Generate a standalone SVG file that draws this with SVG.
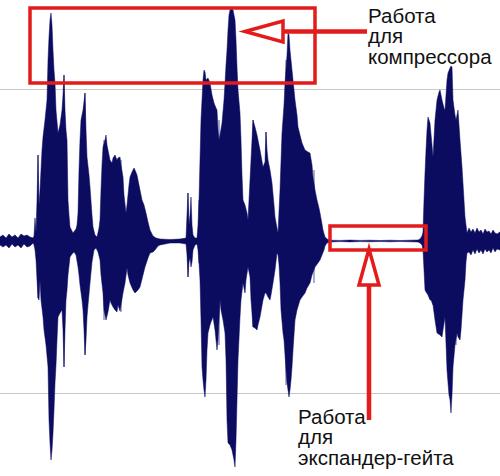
<svg xmlns="http://www.w3.org/2000/svg" width="500" height="476" viewBox="0 0 500 476">
<style>
.grid{stroke:#c8c8c8;stroke-width:1;fill:none}
.wave{fill:#0b0b60;stroke:#0b0b60;stroke-width:0.5;stroke-linejoin:round}
.hair{stroke:#5c5c9c;stroke-width:1}
.red{fill:none;stroke:#e41b1b;stroke-width:3.5}
.redfill{fill:#fff;stroke:#e41b1b;stroke-width:3.5;stroke-linejoin:miter}
.redline{stroke:#e41b1b;stroke-width:4.5}
.lbl{font-family:"Liberation Sans",Arial,sans-serif;font-size:20.5px;fill:#111}
</style>
<rect width="500" height="476" fill="#fff"/>
<g id="grid">
<line class="grid" x1="0" y1="89.5" x2="500" y2="89.5"/>
<line class="grid" x1="0" y1="393.5" x2="500" y2="393.5"/>
</g>
<g id="waveform">
<g class="hair">
<line x1="38" y1="155" x2="38" y2="298"/>
<line x1="64" y1="75" x2="64" y2="367"/>
<line x1="85" y1="93" x2="85" y2="355"/>
<line x1="188" y1="193" x2="188" y2="277"/>
<line x1="199" y1="200" x2="199" y2="263"/>
<line x1="253" y1="120" x2="253" y2="327"/>
<line x1="266" y1="132" x2="266" y2="293"/>
<line x1="433" y1="157" x2="433" y2="305"/>
<line x1="456" y1="120" x2="456" y2="345"/>
<line x1="104" y1="140" x2="104" y2="320"/>
<line x1="121" y1="160" x2="121" y2="312"/>
<line x1="219" y1="120" x2="219" y2="345"/>
<line x1="286" y1="60" x2="286" y2="385"/>
<line x1="314" y1="170" x2="314" y2="283"/>
</g>
<polygon class="wave" points="0,237 3,235 6,238 9,234 12,237 15,235 18,238 21,234 24,236 27,235 30,237 33,238 34,236 35,218 36,232 37,200 38,155 39,205 40,190 42,150 43,137 45,120 47,100 48,60 49,37 50,20 51,13 52,25 53,50 54,70 55,83 56,110 58,133 60,125 62,110 63,95 64,75 65,110 66,130 67,140 68,200 69,215 70,227 73,233 76,229 77,225 78,213 79,170 80,140 81,120 83,110 85,93 86,130 87,157 89,175 90,187 92,215 93,227 95,235 97,237 99,228 100,220 101,190 102,165 103,147 105,140 106,135 107,145 108,150 110,160 112,163 113,158 115,155 117,160 118,158 120,157 121,165 123,177 124,195 126,213 127,205 129,185 130,177 132,172 134,168 135,170 137,175 138,180 140,190 142,200 144,205 146,213 148,222 150,230 153,236 156,238 160,239 170,239.5 180,239 186,238 187,215 188,193 189,225 190,215 191,197 192,225 193,235 195,238 197,238 198,225 199,200 200,160 201,120 202,100 203,80 204,70 205,72 206,80 208,78 210,83 212,95 214,103 216,108 217,110 218,130 219,140 220,135 222,123 224,100 225,83 226,65 227,50 228,30 229,15 230,10 231,8 233,10 234,15 235,20 236,40 237,67 238,90 240,113 241,140 242,175 243,200 245,205 247,213 248,220 250,180 252,140 253,120 255,127 257,135 258,140 260,150 263,167 265,162 266,132 267,150 268,160 270,170 272,183 274,205 275,217 277,228 278,233 280,190 282,133 284,105 285,83 287,55 288,33 289,35 290,50 291,60 292,70 294,90 295,100 297,115 298,127 300,135 302,143 305,150 308,152 310,153 312,165 313,177 315,190 317,200 319,208 320,213 322,224 323,230 325,237 327,239 330,240.2 340,240.4 350,240.1 360,240.4 370,240.2 380,240.5 390,240.2 400,240.5 410,240.2 418,240 420,239 422,236 423,232 424,200 425,173 426,150 427,130 428,117 429,120 430,123 432,145 433,157 435,120 437,100 439,92 440,90 442,100 444,108 445,110 446,95 447,80 448,73 450,68 451,66 452,67 453,100 455,115 456,120 457,115 458,110 460,140 462,167 464,200 465,217 467,233 469,228 471,232 473,229 475,233 477,228 479,232 481,230 483,234 485,229 487,232 489,231 491,234 493,230 495,233 497,234 500,232 500,250 497,249 495,252 493,248 491,253 489,250 487,252 485,249 483,254 481,250 479,253 477,249 475,254 473,250 471,255 469,252 467,253 466,262 465,280 463,300 461,330 460,340 458,337 457,333 455,345 453,367 452,395 451,413 450,400 449,395 448,383 447,370 445,317 443,330 442,337 440,335 437,333 435,320 433,305 431,300 430,300 428,295 426,292 425,290 424,270 423,250 422,245 420,243 418,242 410,241.8 400,241.5 390,241.8 380,241.5 370,241.8 360,241.6 350,241.9 340,241.6 330,242 327,243 325,246 324,250 322,255 320,260 318,263 315,267 312,275 310,283 307,288 305,293 302,297 300,300 297,310 295,320 293,350 292,367 291,380 290,390 289,397 288,390 287,383 286,370 285,355 284,340 283,333 281,310 280,283 279,265 278,255 277,253 275,270 273,283 271,295 270,300 268,297 266,293 265,293 263,300 260,317 258,325 257,330 255,328 253,327 251,300 250,277 248,267 246,280 245,293 243,283 241,300 240,317 238,360 237,400 236,440 235,467 234,460 232,450 230,445 228,443 227,420 226,360 225,333 223,320 221,310 220,300 219,320 218,340 217,350 215,330 213,317 211,322 210,325 208,333 207,350 206,380 205,397 204,390 203,380 202,367 201,320 200,280 199,263 198,250 197,244 195,245 193,250 192,262 191,267 190,258 189,262 188,277 187,255 186,244 180,243 170,243 160,245 158,246 155,250 153,252 150,253 148,258 145,267 143,275 140,287 138,290 135,293 133,290 130,283 128,275 127,268 125,283 123,293 121,305 120,311 118,305 117,312 115,310 113,307 111,303 110,300 108,312 106,320 104,310 103,293 101,275 100,260 98,252 96,248 94,250 92,262 90,283 88,305 87,317 86,340 85,355 84,330 83,310 82,300 80,285 79,275 78,267 76,255 74,252 72,254 70,257 68,275 67,290 66,300 65,330 64,367 63,330 62,310 60,313 58,317 57,340 56,365 55,383 54,410 53,433 52,450 51,460 50,443 49,420 48,367 46,345 44,330 43,317 41,300 40,280 39,300 38,298 37,280 36,260 35,250 34,245 33,243 30,246 27,247 24,244 21,248 18,245 15,247 12,244 9,248 6,245 3,247 0,245"/>
</g>
<g id="compressor-zone">
<rect class="red" x="30" y="8" width="285" height="75"/>
</g>
<g id="expander-zone">
<rect class="red" x="330" y="226" width="96" height="24"/>
</g>
<g id="connectors">
<line class="redline" x1="283" y1="31.5" x2="367" y2="31.5"/>
<polygon class="redfill" points="245,31.5 283,21 283,42"/>
<line class="redline" x1="369" y1="284" x2="369" y2="420"/>
<polygon class="redfill" points="369,249 359,285 379,285"/>
</g>
<g id="label-compressor">
<text class="lbl" x="368" y="22.5">Работа</text>
<text class="lbl" x="368" y="43">для</text>
<text class="lbl" x="368" y="63.5">компрессора</text>
</g>
<g id="label-expander">
<text class="lbl" x="298" y="424">Работа</text>
<text class="lbl" x="298" y="444">для</text>
<text class="lbl" x="298" y="464.5">экспандер-гейта</text>
</g>
</svg>
